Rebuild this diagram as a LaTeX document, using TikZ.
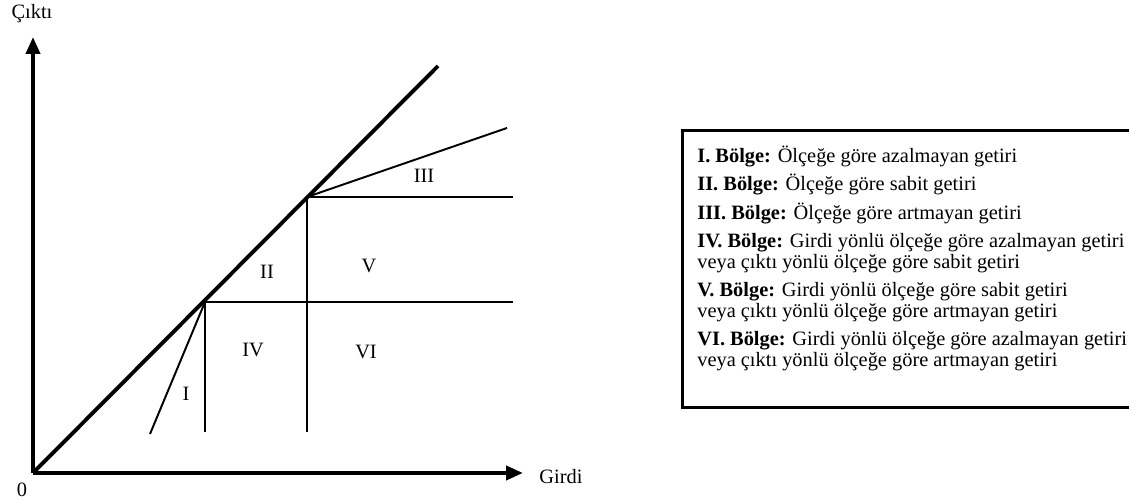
\documentclass[tikz,border=0pt]{standalone}
\usepackage{fontspec}
\setmainfont{Liberation Serif}
\usetikzlibrary{arrows.meta,positioning}

\begin{document}
\begin{tikzpicture}[
  >={Triangle[length=3.4mm,width=2.8mm]},
  axis/.style={->, line width=2.2pt},
  frontier/.style={line width=2.2pt},
  ray/.style={line width=1.1pt},
  grid/.style={line width=0.9pt},
  region/.style={font=\fontsize{11.6}{12}\selectfont},
  frame/.style={line width=1.7pt}
]
\useasboundingbox (0,0) rectangle (22.58,10);

% Points
\coordinate (O) at (0.66, 0.54);
\coordinate (A) at (4.10, 3.96);
\coordinate (B) at (6.14, 6.06);
\coordinate (Ytip) at (0.66, 9.26);
\coordinate (Xtip) at (10.46, 0.54);
\coordinate (Dend) at (8.76, 8.68);
\coordinate (Iend) at (3.00, 1.32);
\coordinate (Abot) at (4.10, 1.36);
\coordinate (Bbot) at (6.14, 1.36);
\coordinate (Aright) at (10.26, 3.96);
\coordinate (Bright) at (10.26, 6.06);
\coordinate (IIIend) at (10.14, 7.44);

% Axes
\draw[axis] (O) -- (Ytip);
\draw[axis] (O) -- (Xtip);
\node[region] (ylab) at (0.64, 9.72) {Çıktı};
\node[region] (xlab) at (11.22, 0.46) {Girdi};
\node[region] (zero) at (0.44, 0.2) {0};

% Frontier and regions
\draw[frontier] (O) -- (Dend);
\draw[ray] (A) -- (Iend);
\draw[ray] (B) -- (IIIend);
\draw[grid] (A) -- (Abot);
\draw[grid] (B) -- (Bbot);
\draw[grid] (A) -- (Aright);
\draw[grid] (B) -- (Bright);

\node[region] (r1) at (3.72, 2.12) {I};
\node[region] (r2) at (5.34, 4.56) {II};
\node[region] (r3) at (8.48, 6.48) {III};
\node[region] (r4) at (5.06, 3.00) {IV};
\node[region] (r5) at (7.38, 4.68) {V};
\node[region] (r6) at (7.32, 2.96) {VI};

% Legend
\draw[frame] (23.2, 7.38) -- (13.64, 7.38) -- (13.64, 1.84) -- (23.2, 1.84);
\node[region, anchor=north west, align=left, inner sep=0pt] (legend) at (13.94, 7.08) {%
  \textbf{I. Bölge:} Ölçeğe göre azalmayan getiri\\[4pt]
  \textbf{II. Bölge:} Ölçeğe göre sabit getiri\\[4pt]
  \textbf{III. Bölge:} Ölçeğe göre artmayan getiri\\[4pt]
  \textbf{IV. Bölge:} Girdi yönlü ölçeğe göre azalmayan getiri\\
  veya çıktı yönlü ölçeğe göre sabit getiri\\[4pt]
  \textbf{V. Bölge:} Girdi yönlü ölçeğe göre sabit getiri\\
  veya çıktı yönlü ölçeğe göre artmayan getiri\\[4pt]
  \textbf{VI. Bölge:} Girdi yönlü ölçeğe göre azalmayan getiri\\
  veya çıktı yönlü ölçeğe göre artmayan getiri};

\end{tikzpicture}
\end{document}
